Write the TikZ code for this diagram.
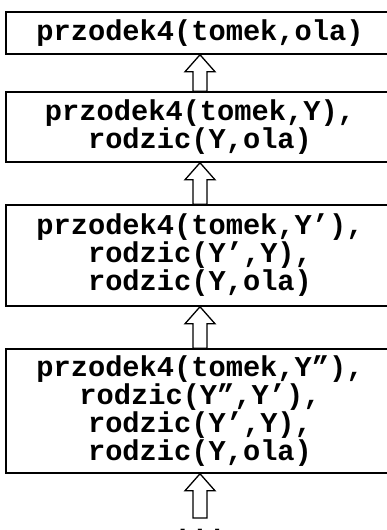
\documentclass[tikz,border=0pt]{standalone}
\usepackage{fontspec}
\setmonofont{Liberation Mono}
\usetikzlibrary{calc}
\tikzset{
  goal/.style={draw=black, line width=1.5pt, minimum width=388pt, inner sep=0pt,
    align=center, font=\ttfamily\bfseries\fontsize{28.7}{28}\selectfont},
  fat/.style={draw=black, line width=1.3pt, fill=white, line join=miter}
}
\newcommand{\fatarrow}[2]{%
  \path let \p1=(#1.north), \p2=(#2.south) in
    [fat] (\x1-7pt,\y1) -- (\x1-7pt,\y2-17pt) -- (\x1-15pt,\y2-17pt) -- (\x1,\y2)
      -- (\x1+15pt,\y2-17pt) -- (\x1+7pt,\y2-17pt) -- (\x1+7pt,\y1) -- cycle;}
\begin{document}
\begin{tikzpicture}[x=1pt,y=-1pt]
\useasboundingbox (0,0) rectangle (387,530);
\clip (0,0) rectangle (387,530);
\node[goal, minimum height=42pt] (b1) at (200,33) {przodek4(tomek,ola)};
\node[goal, minimum height=70pt] (b2) at (200,127) {przodek4(tomek,Y),\\rodzic(Y,ola)};
\node[goal, minimum height=101pt] (b3) at (200,255.5) {przodek4(tomek,Y’),\\rodzic(Y’,Y),\\rodzic(Y,ola)};
\node[goal, minimum height=124pt] (b4) at (200,411) {przodek4(tomek,Y”),\\rodzic(Y”,Y’),\\rodzic(Y’,Y),\\rodzic(Y,ola)};
\coordinate (bot) at (200,518);
\node[font=\ttfamily\bfseries\fontsize{28.7}{28}\selectfont, anchor=base, inner sep=0pt] (dots) at (200,533) {...};
\fatarrow{b2}{b1}
\fatarrow{b3}{b2}
\fatarrow{b4}{b3}
\path let \p1=(bot), \p2=(b4.south) in
    [fat] (\x1-7pt,\y1) -- (\x1-7pt,\y2-17pt) -- (\x1-15pt,\y2-17pt) -- (\x1,\y2)
      -- (\x1+15pt,\y2-17pt) -- (\x1+7pt,\y2-17pt) -- (\x1+7pt,\y1) -- cycle;
\end{tikzpicture}
\end{document}
